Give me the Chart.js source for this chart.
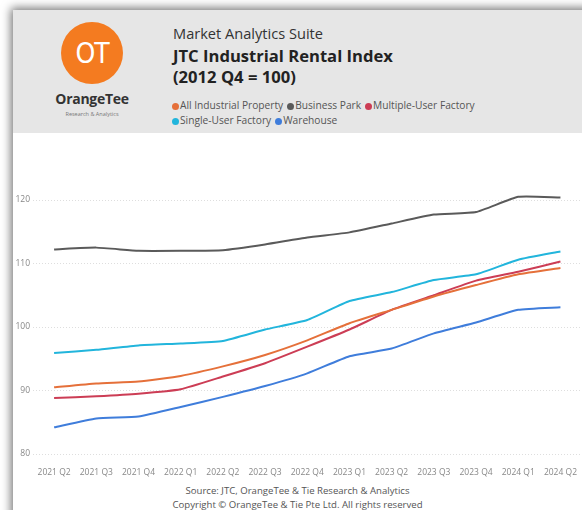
<!DOCTYPE html>
<html>
<head>
<meta charset="utf-8">
<script src="https://cdn.jsdelivr.net/npm/chart.js@4.4.1/dist/chart.umd.min.js"></script>
<style>
  html, body { margin: 0; padding: 0; background: #ffffff; width: 582px; height: 510px; overflow: hidden; font-family: "Open Sans", sans-serif; }
  #card { position: absolute; left: 13px; top: 10px; width: 600px; height: 520px; background: #fff; box-shadow: -2px -2px 9px rgba(0,0,0,0.55); }
  #header { position: absolute; left: 13px; top: 10px; width: 569px; height: 123px; background: #e6e6e6; }
  #logo { position: absolute; left: 61px; top: 22px; width: 62px; height: 62px; border-radius: 50%; background: #f47b20; color: #fff; font: 28px "Liberation Sans Narrow", "DejaVu Sans Condensed", sans-serif; text-align: center; line-height: 64px; letter-spacing: -1px; }
  #brand { position: absolute; left: 38px; top: 89px; width: 108px; text-align: center; font: bold 14px "Open Sans", sans-serif; color: #333; letter-spacing: -0.3px; }
  #brandsub { position: absolute; left: 40px; top: 110px; width: 104px; text-align: center; font: 5.5px "Open Sans", sans-serif; color: #777; }
  #suite { position: absolute; left: 173px; top: 23px; font: 14.6px "Open Sans", sans-serif; color: #333; }
  #title { position: absolute; left: 173px; top: 45px; font: bold 16.6px "Open Sans", sans-serif; color: #222; line-height: 21px; }
  #legend { position: absolute; left: 172px; top: 98px; width: 410px; font: 10.2px "Open Sans", sans-serif; color: #555; line-height: 15px; }
  .li { display: inline-block; margin-right: 4px; white-space: nowrap; }
  .dot { display: inline-block; width: 7px; height: 7px; border-radius: 50%; margin-right: 1px; vertical-align: -0.5px; }
  #chartwrap { position: absolute; left: 0px; top: 133px; width: 582px; height: 345px; }
  #footer { position: absolute; left: 13px; top: 484px; width: 569px; text-align: center; font: 9.6px "Open Sans", sans-serif; color: #555; line-height: 14px; }
</style>
</head>
<body>
<div id="card"></div>
<div id="header">
</div>
<div id="logo">OT</div>
<div id="brand">OrangeTee</div>
<div id="brandsub">Research &amp; Analytics</div>
<div id="suite">Market Analytics Suite</div>
<div id="title">JTC Industrial Rental Index<br>(2012 Q4 = 100)</div>
<div id="legend"></div>
<div id="chartwrap"><canvas id="c" width="582" height="345"></canvas></div>
<div id="footer">Source: JTC, OrangeTee &amp; Tie Research &amp; Analytics<br>Copyright © OrangeTee &amp; Tie Pte Ltd. All rights reserved</div>
<script>
const quarters = ['2021 Q2','2021 Q3','2021 Q4','2022 Q1','2022 Q2','2022 Q3','2022 Q4','2023 Q1','2023 Q2','2023 Q3','2023 Q4','2024 Q1','2024 Q2'];
const seriesNames = ['All Industrial Property','Business Park','Multiple-User Factory','Single-User Factory','Warehouse'];
const allIndustrial = [90.5, 91.1, 91.4, 92.3, 93.8, 95.6, 97.9, 100.6, 102.7, 104.8, 106.6, 108.3, 109.3];
const businessPark  = [112.2, 112.5, 112.0, 112.0, 112.1, 113.0, 114.1, 114.9, 116.3, 117.7, 118.1, 120.5, 120.4];
const multipleUser  = [88.8, 89.1, 89.5, 90.2, 92.2, 94.3, 96.9, 99.6, 102.7, 105.0, 107.3, 108.7, 110.3];
const singleUser    = [95.9, 96.4, 97.1, 97.4, 97.8, 99.6, 101.1, 104.1, 105.5, 107.4, 108.3, 110.6, 111.9];
const warehouse     = [84.2, 85.6, 85.9, 87.4, 89.0, 90.7, 92.7, 95.4, 96.6, 99.0, 100.7, 102.7, 103.1];
const yTicks = [80, 90, 100, 110, 120];
const colors = ['#e5703a', '#5a5a5a', '#cc3d55', '#22b5dc', '#3f7ddb'];
const values = [allIndustrial, businessPark, multipleUser, singleUser, warehouse];

// HTML legend
const lg = document.getElementById('legend');
seriesNames.forEach((n, i) => {
  const s = document.createElement('span');
  s.className = 'li';
  s.innerHTML = '<span class="dot" style="background:' + colors[i] + '"></span>' + n;
  lg.appendChild(s);
  if (i === 2) lg.appendChild(document.createElement('br'));
});

const datasets = seriesNames.map((n, i) => ({
  label: n,
  data: values[i],
  borderColor: colors[i],
  backgroundColor: colors[i],
  borderWidth: 2,
  pointRadius: 0,
  tension: 0.15,
  clip: false,
  fill: false
}));

new Chart(document.getElementById('c'), {
  type: 'line',
  data: { labels: quarters, datasets },
  options: {
    responsive: false,
    animation: false,
    events: [],
    layout: { padding: { top: 67, right: 0, left: 0, bottom: 0 } },
    plugins: { legend: { display: false }, tooltip: { enabled: false } },
    scales: {
      x: {
        offset: true,
        grid: { display: false },
        border: { display: false },
        ticks: { autoSkip: false, maxRotation: 0, minRotation: 0, padding: 5, color: '#888', font: { family: 'Open Sans', size: 8.5 } },
        afterFit: s => { s.height = 24; }
      },
      y: {
        min: 80, max: 120,
        afterBuildTicks: s => { s.ticks = yTicks.map(v => ({ value: v })); },
        grid: { color: '#dedede', lineWidth: 1, drawTicks: false },
        border: { display: false, dash: [1, 2] },
        ticks: { padding: 3, color: '#888', font: { family: 'Open Sans', size: 8.5 } },
        afterFit: s => { s.width = 33; }
      }
    }
  }
});
</script>
</body>
</html>
